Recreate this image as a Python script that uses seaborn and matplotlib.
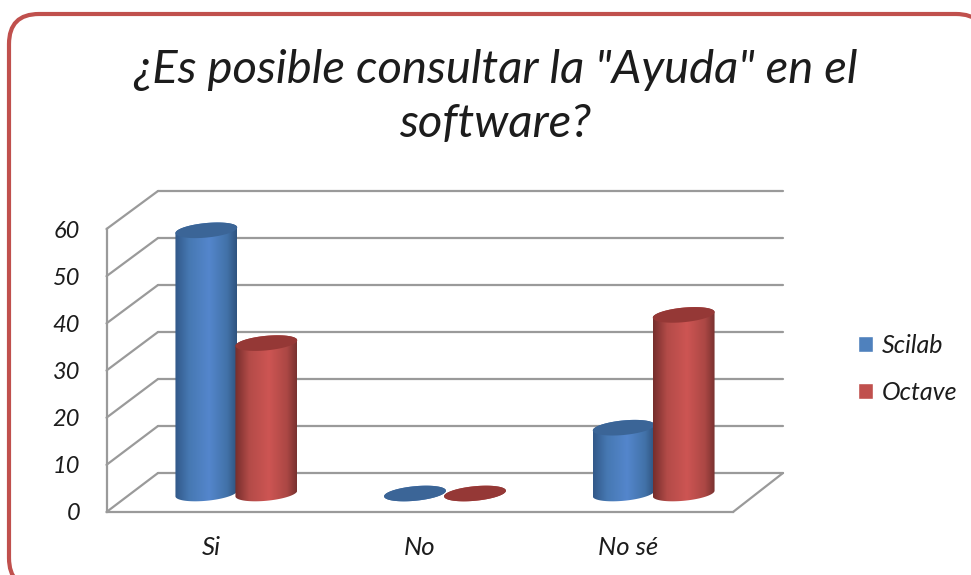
import numpy as np
import pandas as pd
import matplotlib
matplotlib.use("Agg")
import matplotlib.pyplot as plt
import seaborn as sns
from matplotlib.colors import LinearSegmentedColormap
from matplotlib.lines import Line2D
from matplotlib.patches import FancyBboxPatch, Polygon
from matplotlib.transforms import IdentityTransform

W, H = 971, 575

title = '¿Es posible consultar la "Ayuda" en el\nsoftware?'
categories = ["Si", "No", "No sé"]
scilab = [56, 0, 14]
octave = [32, 0, 38]
y_ticks = [0, 10, 20, 30, 40, 50, 60]

GRID = "#9a9a9a"
TEXT = "#1c1c1c"
COLORS = {"Scilab": "#4f81bd", "Octave": "#c0504d"}
CAPS = {"Scilab": "#3b6597", "Octave": "#953836"}
SHADES = {
    "Scilab": ["#32598a", "#4678b2", "#5486cc", "#4272a8", "#2f5480"],
    "Octave": ["#772e2c", "#b34b48", "#cd5553", "#ab4744", "#7a3230"],
}

sns.set_theme(style="white")
plt.rcParams["font.family"] = ["Lato", "DejaVu Sans"]
plt.rcParams["font.style"] = "italic"
plt.rcParams["text.color"] = TEXT

fig = plt.figure(figsize=(W / 100, H / 100), dpi=100, facecolor="white")


def px_axes(left, right, top, bottom):
    # axes placed by pixel box of the target picture
    ax = fig.add_axes([left / W, 1 - bottom / H, (right - left) / W, (bottom - top) / H])
    ax.patch.set_alpha(0)
    ax.set_xlim(-0.5, 2.5)
    ax.set_ylim(0, 60)
    return ax


# rounded red frame, runs off the picture at the bottom and right
fig.add_artist(FancyBboxPatch((29, 7), 937, 534,
                              boxstyle="round,pad=20,rounding_size=30",
                              transform=IdentityTransform(), fc="white", ec="#c0504d",
                              lw=3.0, zorder=-5))

fig.text(495 / W, 1 - 97 / H, title, ha="center", va="center", fontsize=34, linespacing=1.36)

# back wall, front plane, and the plane the bars stand in
back = px_axes(158, 783, 191, 473)
front = px_axes(106.5, 733, 229, 512)
bars = px_axes(132, 758, 211.5, 493.5)

back.set_yticks(y_ticks)
back.set_xticks([])
back.grid(axis="y", color=GRID, lw=1.6)
for line in back.get_ygridlines():
    line.set_clip_on(False)
sns.despine(ax=back, left=True, bottom=True)
back.tick_params(left=False, labelleft=False)

front.set_xticks(range(len(categories)))
front.set_xticklabels(categories, fontsize=18.5, color=TEXT)
front.set_yticks(y_ticks)
front.tick_params(axis="y", labelsize=17, length=0, pad=19, labelcolor=TEXT)
front.tick_params(axis="x", length=0, pad=17)
sns.despine(ax=front, right=True, top=True)
for side in ["left", "bottom"]:
    front.spines[side].set_color(GRID)
    front.spines[side].set_linewidth(1.6)

# depth lines between the front plane and the back wall
for v in y_ticks:
    p0 = front.transData.transform((-0.5, v))
    p1 = back.transData.transform((-0.5, v))
    fig.add_artist(Line2D([p0[0], p1[0]], [p0[1], p1[1]], color=GRID, lw=1.6,
                          transform=IdentityTransform(), zorder=-1))
p0 = front.transData.transform((2.5, 0))
p1 = back.transData.transform((2.5, 0))
fig.add_artist(Line2D([p0[0], p1[0]], [p0[1], p1[1]], color=GRID, lw=1.6,
                      transform=IdentityTransform(), zorder=-1))

df = pd.DataFrame({
    "categoria": categories * 2,
    "valor": scilab + octave,
    "software": ["Scilab"] * len(categories) + ["Octave"] * len(categories),
})
sns.barplot(data=df, x="categoria", y="valor", hue="software", palette=COLORS, ax=bars,
            width=0.575, gap=0, saturation=1, order=categories, hue_order=["Scilab", "Octave"])
bars.set_xlim(-0.5, 2.5)
bars.set_ylim(0, 60)
bars.axis("off")
bars.set_autoscale_on(False)

# turn each flat seaborn bar into a cylinder
t = np.linspace(0, 2 * np.pi, 121)
lower = np.linspace(np.pi, 2 * np.pi, 61)
upper = np.linspace(0, np.pi, 61)
RISE = 1.55
TILT = 0.6
for name, container in zip(["Scilab", "Octave"], bars.containers):
    cmap = LinearSegmentedColormap.from_list(name, list(zip([0, 0.22, 0.55, 0.85, 1], SHADES[name])))
    for patch in container:
        patch.set_visible(False)
        cx = patch.get_x() + patch.get_width() / 2
        a = patch.get_width() / 2 * 1.03
        h = patch.get_height()
        body = np.vstack([
            np.column_stack([cx + a * np.cos(lower), RISE * np.sin(lower) + TILT * np.cos(lower)]),
            np.column_stack([cx + a * np.cos(upper), h + RISE * np.sin(upper) + TILT * np.cos(upper)]),
        ])
        cap = np.column_stack([cx + a * np.cos(t), h + RISE * np.sin(t) + TILT * np.cos(t)])
        im = bars.imshow(np.linspace(0, 1, 64)[None, :], cmap=cmap, aspect="auto", vmin=0, vmax=1,
                         extent=[cx - a, cx + a, -3, h + 3], zorder=3)
        im.set_clip_path(Polygon(body, transform=bars.transData))
        im.set_clip_box(fig.bbox)
        bars.add_patch(Polygon(cap, fc=CAPS[name], ec="none", zorder=3, clip_on=False))

sns.move_legend(bars, "center left", bbox_to_anchor=(858 / W, 1 - 369 / H),
                bbox_transform=fig.transFigure, frameon=False, title=None,
                fontsize=18, handlelength=0.6, handleheight=0.6, handletextpad=0.35,
                labelspacing=0.95, borderpad=0, borderaxespad=0)

fig.savefig("out.png", dpi=100)
